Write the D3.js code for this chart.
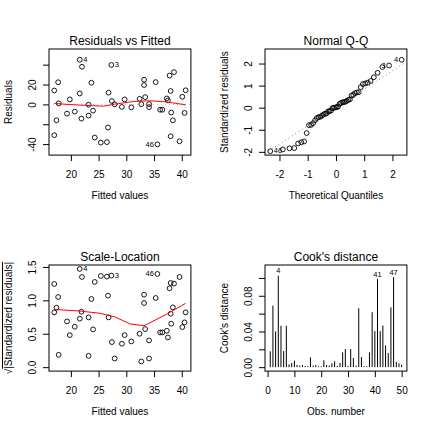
<!DOCTYPE html>
<html><head><meta charset="utf-8">
<script src="https://cdn.jsdelivr.net/npm/d3@7"></script>
<style>
body{margin:0;background:#fff}
svg{display:block}
text{font-family:"Liberation Sans",Arial,Helvetica,sans-serif;fill:#000}
</style>
</head><body><svg id="chart" width="432" height="432"></svg>
<script>
// ---- data ----
const fitted = [17.0,17.0,17.4,17.7,17.8,19.3,19.8,20.7,21.6,21.6,21.9,22.0,23.2,23.2,23.7,24.0,24.3,25.4,26.5,26.7,26.8,27.3,27.4,27.9,29.2,29.7,30.9,32.4,32.7,33.2,33.2,33.4,34.1,34.1,35.6,35.3,36.1,36.5,37.3,37.5,37.8,38.0,38.1,38.0,38.4,38.6,39.6,40.1,40.5,40.7];
const residuals = [-31,14,-16,22.3,1,-9.3,5,-7.3,45.0,11,-14.3,37.9,-0.3,-11.3,21.8,-6.3,-33.4,-38.5,-38,-23.3,11.8,39.7,3.4,0,-2.6,5,-3.0,5.6,0.2,24.8,19.5,7.3,0.3,-2.8,-40.3,22.4,-5.4,-5.4,6.0,4.0,29.0,13.5,-8.2,-32.1,-16,32.5,-37.2,7.7,-8.6,14.2];
const sqrtStdResid = [1.245,0.82,0.89,1.05,0.185,0.685,0.48,0.605,1.47,0.725,0.83,1.35,0.17,0.745,1.02,0.565,1.275,1.365,1.355,1.07,0.745,1.37,0.375,0.13,0.35,0.48,0.385,0.5,0.085,1.085,0.96,0.57,0.13,0.4,1.395,1.035,0.52,0.52,0.545,0.445,1.18,0.80,0.65,1.26,0.895,1.25,1.35,0.60,0.67,0.82];
const pointIds = ["","","","","","","","","4","","","","","","","","","","","","","3","","","","","","","","","","","","","46","","","","","","","","","","","","","","",""];

const resSmoothX = [17.0,19.8,23.4,25.9,27.9,29.6,31.5,33.9,35.5,37.0,38.5,40.7];
const resSmoothY = [1.0,-0.2,-1.2,-1.8,0.2,1.6,3.0,3.6,3.2,2.6,1.4,-0.4];
const slSmoothX = [17.0,21.6,25.2,28.0,30.7,33.2,37.0,40.7];
const slSmoothY = [0.865,0.84,0.807,0.75,0.647,0.62,0.78,0.955];

const qqTheoretical = [-2.3263,-1.8808,-1.6449,-1.4758,-1.3408,-1.2265,-1.1264,-1.0364,-0.9542,-0.8779,-0.8064,-0.7388,-0.6745,-0.6128,-0.5534,-0.4959,-0.4399,-0.3853,-0.3319,-0.2793,-0.2275,-0.1764,-0.1257,-0.0753,-0.0251,0.0251,0.0753,0.1257,0.1764,0.2275,0.2793,0.3319,0.3853,0.4399,0.4959,0.5534,0.6128,0.6745,0.7388,0.8064,0.8779,0.9542,1.0364,1.1264,1.2265,1.3408,1.4758,1.6449,1.8808,2.3263];
const qqStdResid = [-1.97,-1.89,-1.84,-1.83,-1.62,-1.57,-1.53,-1.15,-0.79,-0.78,-0.70,-0.57,-0.47,-0.43,-0.41,-0.36,-0.31,-0.27,-0.26,-0.17,-0.16,-0.13,-0.02,0.00,0.01,0.02,0.05,0.17,0.21,0.24,0.25,0.27,0.31,0.35,0.38,0.55,0.58,0.66,0.69,0.70,0.93,1.07,1.10,1.13,1.21,1.38,1.58,1.84,1.91,2.17];
const qqIds = ["46","","","","","","","","","","","","","","","","","","","","","","","","","","","","","","","","","","","","","","","","","","","","","","","","3","4"];
const qqLineSlope = 0.83, qqLineIntercept = 0.01;

const cooksD = [0.0177,0.069,0.040,0.1024,0.0463,0.018,0.0463,0.003,0.0047,0.0073,0.0025,0.0017,0.0025,0.0013,0.001,0.011,0.0017,0.0025,0.001,0.001,0.0077,0.0025,0.0017,0.0043,0.0065,0.0013,0.0047,0.0166,0.0203,0.0013,0.0203,0.0103,0.0017,0.066,0.0114,0.001,0.001,0.0166,0.0616,0.0404,0.0987,0.0404,0.0467,0.0244,0.0158,0.067,0.101,0.0058,0.0043,0.0028];
const cooksObs = d3.range(1, cooksD.length + 1);
const cooksIds = {4:"4", 41:"41", 47:"47"};

const titles = ["Residuals vs Fitted","Normal Q-Q","Scale-Location","Cook's distance"];
const xTitles = ["Fitted values","Theoretical Quantiles","Fitted values","Obs. number"];
const yTitles = ["Residuals","Standardized residuals","√|Standardized residuals|","Cook's distance"];

const fitTicks = [20,25,30,35,40], fitTickLabels = ["20","25","30","35","40"];
const resTicks = [-40,-20,0,20,40], resTickLabels = ["-40","","0","20",""];
const qqTicks = [-2,-1,0,1,2], qqTickLabels = ["-2","-1","0","1","2"];
const slTicks = [0,0.5,1,1.5], slTickLabels = ["0.0","0.5","1.0","1.5"];
const obsTicks = [0,10,20,30,40,50], obsTickLabels = ["0","10","20","30","40","50"];
const cookTicks = [0,0.02,0.04,0.06,0.08,0.10], cookTickLabels = ["0.00","","0.04","","0.08",""];

// ---- drawing ----
const svg = d3.select("#chart");
const FONT = '"Liberation Sans",Arial,Helvetica,sans-serif';
const ext = ([a,b]) => [a-0.04*(b-a), b+0.04*(b-a)];

function frame(col,row){
  const ox=216*col, oy=216*row;
  return {l:ox+49, r:ox+190.9, t:oy+49, b:oy+155.1};
}

function decorate(i, box, x, y, xt, xl, yt, yl, yTitleNode){
  const g = svg.append("g");
  const cid = "clip"+i;
  svg.append("clipPath").attr("id",cid).append("rect")
    .attr("x",box.l).attr("y",box.t).attr("width",box.r-box.l).attr("height",box.b-box.t);
  // axes
  const gx = g.append("g").attr("transform",`translate(0,${box.b})`)
    .call(d3.axisBottom(x).tickValues(xt).tickFormat((d,k)=>xl[k]).tickSize(6).tickPadding(10));
  gx.select(".domain").remove();
  gx.attr("font-family",FONT).attr("font-size",10);
  gx.selectAll("line").attr("stroke","#000");
  gx.selectAll("text").attr("fill","#000");
  const gy = g.append("g").attr("transform",`translate(${box.l},0)`)
    .call(d3.axisLeft(y).tickValues(yt).tickFormat((d,k)=>yl[k]).tickSize(6));
  gy.select(".domain").remove();
  gy.attr("font-family",FONT).attr("font-size",10);
  gy.selectAll("line").attr("stroke","#000");
  gy.selectAll("text").attr("x",0).attr("dy",null).attr("y",-13.5)
    .attr("transform","rotate(-90)").attr("text-anchor","middle").attr("fill","#000");
  // box
  g.append("rect").attr("x",box.l).attr("y",box.t).attr("width",box.r-box.l).attr("height",box.b-box.t)
    .attr("fill","none").attr("stroke","#000").attr("stroke-width",1);
  // titles
  g.append("text").attr("x",(box.l+box.r)/2).attr("y",box.t-4.5).attr("text-anchor","middle")
    .attr("font-size",12).text(titles[i]);
  g.append("text").attr("x",(box.l+box.r)/2).attr("y",box.b+44).attr("text-anchor","middle")
    .attr("font-size",10).text(xTitles[i]);
  const yt2 = g.append("text").attr("transform",`translate(${box.l-37},${(box.t+box.b)/2}) rotate(-90)`)
    .attr("text-anchor","middle").attr("font-size",10);
  if (yTitleNode) yTitleNode(yt2); else yt2.text(yTitles[i]);
  return "url(#"+cid+")";
}

function circles(sel, xs, ys, x, y){
  sel.selectAll("circle.p").data(xs).join("circle").attr("class","p")
    .attr("cx",(d,k)=>x(xs[k])).attr("cy",(d,k)=>y(ys[k])).attr("r",2.4)
    .attr("fill","none").attr("stroke","#000").attr("stroke-width",0.9);
}
function idLabels(sel, xs, ys, ids, x, y, mid){
  ids.forEach((id,k)=>{
    if(!id) return;
    const right = xs[k] <= mid;
    sel.append("text").attr("x",x(xs[k])+(right?3.5:-3.5)).attr("y",y(ys[k])).attr("dy","0.3em")
      .attr("text-anchor",right?"start":"end").attr("font-size",7.5).text(id);
  });
}

// Panel 1: Residuals vs Fitted
{
  const box = frame(0,0);
  const x = d3.scaleLinear().domain(ext(d3.extent(fitted))).range([box.l,box.r]);
  let [a,b] = d3.extent(residuals); const w=b-a; a-=0.08*w; b+=0.08*w;
  const y = d3.scaleLinear().domain(ext([a,b])).range([box.b,box.t]);
  const clip = decorate(0, box, x, y, fitTicks, fitTickLabels, resTicks, resTickLabels);
  const g = svg.append("g").attr("clip-path",clip);
  g.append("line").attr("x1",box.l).attr("x2",box.r).attr("y1",y(0)).attr("y2",y(0))
    .attr("stroke","#BEBEBE").attr("stroke-dasharray","1,3");
  circles(g, fitted, residuals, x, y);
  g.append("path").datum(resSmoothX).attr("fill","none").attr("stroke","red").attr("stroke-width",1)
    .attr("d", d3.line().x(d=>x(d)).y((d,k)=>y(resSmoothY[k])));
  idLabels(svg.append("g"), fitted, residuals, pointIds, x, y, d3.mean(d3.extent(fitted)));
}

// Panel 2: Normal Q-Q
{
  const box = frame(1,0);
  const x = d3.scaleLinear().domain(ext(d3.extent(qqTheoretical))).range([box.l,box.r]);
  let [a,b] = d3.extent(qqStdResid); b += 0.075*(b-a);
  const y = d3.scaleLinear().domain(ext([a,b])).range([box.b,box.t]);
  const clip = decorate(1, box, x, y, qqTicks, qqTickLabels, qqTicks, qqTickLabels);
  const g = svg.append("g").attr("clip-path",clip);
  const [x0,x1] = x.domain();
  g.append("line").attr("x1",x(x0)).attr("x2",x(x1))
    .attr("y1",y(qqLineIntercept+qqLineSlope*x0)).attr("y2",y(qqLineIntercept+qqLineSlope*x1))
    .attr("stroke","#7F7F7F").attr("stroke-dasharray","1,3");
  circles(g, qqTheoretical, qqStdResid, x, y);
  idLabels(svg.append("g"), qqTheoretical, qqStdResid, qqIds, x, y, 0);
}

// Panel 3: Scale-Location
{
  const box = frame(0,1);
  const x = d3.scaleLinear().domain(ext(d3.extent(fitted))).range([box.l,box.r]);
  const y = d3.scaleLinear().domain(ext([0, d3.max(sqrtStdResid)])).range([box.b,box.t]);
  const clip = decorate(2, box, x, y, fitTicks, fitTickLabels, slTicks, slTickLabels, t=>{
    t.append("tspan").text("√");
    t.append("tspan").style("text-decoration","overline").text("|Standardized residuals|");
  });
  const g = svg.append("g").attr("clip-path",clip);
  circles(g, fitted, sqrtStdResid, x, y);
  g.append("path").datum(slSmoothX).attr("fill","none").attr("stroke","red").attr("stroke-width",1)
    .attr("d", d3.line().x(d=>x(d)).y((d,k)=>y(slSmoothY[k])));
  idLabels(svg.append("g"), fitted, sqrtStdResid, pointIds, x, y, d3.mean(d3.extent(fitted)));
}

// Panel 4: Cook's distance
{
  const box = frame(1,1);
  const x = d3.scaleLinear().domain(ext(d3.extent(cooksObs))).range([box.l,box.r]);
  const y = d3.scaleLinear().domain(ext([0, d3.max(cooksD)*1.075])).range([box.b,box.t]);
  const clip = decorate(3, box, x, y, obsTicks, obsTickLabels, cookTicks, cookTickLabels);
  const g = svg.append("g").attr("clip-path",clip);
  g.selectAll("line.bar").data(cooksObs).join("line").attr("class","bar")
    .attr("x1",d=>x(d)).attr("x2",d=>x(d)).attr("y1",y(0)).attr("y2",(d,k)=>y(cooksD[k]))
    .attr("stroke","#000").attr("stroke-width",1);
  cooksObs.forEach((o,k)=>{
    if(!cooksIds[o]) return;
    svg.append("text").attr("x",x(o)).attr("y",y(cooksD[k])-2.5).attr("text-anchor","middle")
      .attr("font-size",7.5).text(cooksIds[o]);
  });
}
</script>
</body></html>
